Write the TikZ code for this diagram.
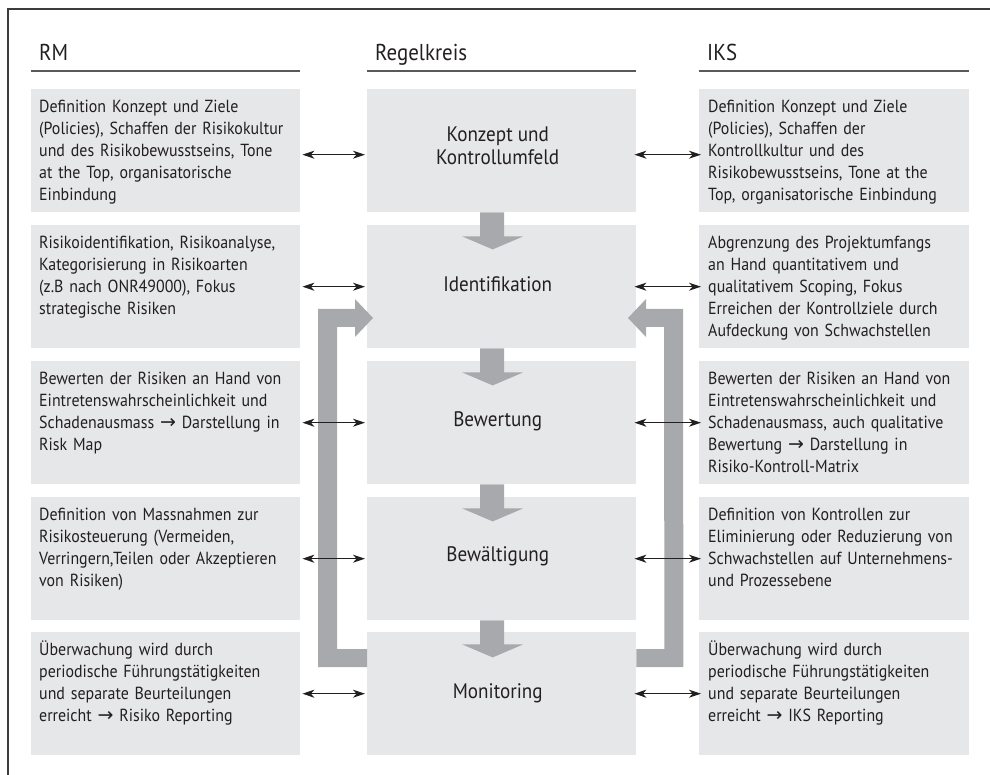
\documentclass[tikz,border=0pt]{standalone}
\usepackage{fontspec}
\setmainfont{PT Sans}[FakeStretch=0.91]
\newfontfamily\arrowfont{DejaVu Sans}
\usetikzlibrary{calc,arrows.meta}

\definecolor{boxgray}{HTML}{E6E7E8}
\definecolor{flowgray}{HTML}{A7A9AC}
\definecolor{ink}{HTML}{231F20}
\definecolor{rulegray}{HTML}{58595B}
\definecolor{framegray}{HTML}{3C3C3C}

\newcommand\rarr{{\arrowfont\fontsize{19}{22}\selectfont\char"2192}}

\tikzset{
  panel/.style={fill=boxgray, draw=none, inner sep=0pt, anchor=north west,
    minimum width=269pt, minimum height=123pt},
  sidetext/.style={inner sep=0pt, anchor=base west, text=ink, align=left,
    text width=320pt, font=\fontsize{17.5}{22}\selectfont},
  midtext/.style={inner sep=0pt, text=ink, align=center,
    font=\fontsize{21}{23}\selectfont},
  headtext/.style={inner sep=0pt, anchor=base west, text=ink,
    font=\fontsize{23}{26}\selectfont},
  headrule/.style={draw=rulegray, line width=1.5pt},
  link/.style={draw=ink, line width=1.1pt,
    {Stealth[length=12pt,width=8pt,inset=3.5pt]}-{Stealth[length=12pt,width=8pt,inset=3.5pt]}},
  flow/.style={fill=flowgray, draw=none},
}

\begin{document}
\begin{tikzpicture}[x=1pt,y=-1pt]
\useasboundingbox (0,0) rectangle (990,775);

% open frame: top and left edges
\coordinate (fc) at (8,9);
\coordinate (fr) at (990,9);
\coordinate (fb) at (8,775);
\draw[framegray, line width=1.4pt] (fr) -- (fc) -- (fb);

% column headers
\coordinate (hl) at (31,71);
\coordinate (hm) at (367,71);
\coordinate (hr) at (699,71);
\node[headtext] (hRM) at ($(hl)+(8,-10)$) {RM};
\node[headtext] (hRK) at ($(hm)+(8,-10)$) {Regelkreis};
\node[headtext] (hIKS) at ($(hr)+(8,-10)$) {IKS};
\draw[headrule] (hl) -- ++(269,0);
\draw[headrule] (hm) -- ++(269,0);
\draw[headrule] (hr) -- ++(270,0);

% panels, row by row
\foreach \r/\y in {1/89, 2/225, 3/361, 4/497, 5/632} {
  \node[panel] (l\r) at (31,\y) {};
  \node[panel] (m\r) at (367,\y) {};
  \node[panel, minimum width=270pt] (r\r) at (699,\y) {};
}

% feedback loops (drawn below the links)
\fill[flow] ($(m5.north west)+(0,17)$) -- ++(-30,0) -- (337,327) -- (355,327)
  -- (355,337) -- (373,318) -- (355,299) -- (355,309) -- (318,309)
  -- ($(m5.north west)+(-49,35)$) -- ($(m5.north west)+(0,35)$) -- cycle;
\fill[flow] ($(m5.north east)+(0,17)$) -- ++(28,0) -- (664,327) -- (646,327)
  -- (646,337) -- (628,318) -- (646,299) -- (646,309) -- (683,309)
  -- ($(m5.north east)+(47,35)$) -- ($(m5.north east)+(0,35)$) -- cycle;

% downward block arrows between the control-loop stages
\foreach \a/\b in {m1/m2, m2/m3, m3/m4, m4/m5} {
  \fill[flow] ($(\a.south)+(-21.5,0)$) -- ++(24,0) -- ++(0,24) -- ++(19,0)
    -- ++(-30.5,13) -- ++(-30.5,-13) -- ++(18,0) -- cycle;
}

% stage labels
\node[midtext] (t1) at ($(m1.center)+(-4,-5)$) {Konzept und\\Kontrollumfeld};
\node[midtext] (t2) at ($(m2.center)+(-4,-3)$) {Identifikation};
\node[midtext] (t3) at ($(m3.center)+(-4,-1)$) {Bewertung};
\node[midtext] (t4) at ($(m4.center)+(-4,-2)$) {Bewältigung};
\node[midtext] (t5) at ($(m5.center)+(-4,0)$) {Monitoring};

% RM texts
\node[sidetext] (lt1) at ($(l1.north west)+(8,23.5)$) {Definition Konzept und Ziele\\(Policies), Schaffen der Risikokultur\\und des Risikobewusstseins, Tone\\at the Top, organisatorische\\Einbindung};
\node[sidetext] (lt2) at ($(l2.north west)+(8,23.5)$) {Risikoidentifikation, Risikoanalyse,\\Kategorisierung in Risikoarten\\(z.B nach ONR49000), Fokus\\strategische Risiken};
\node[sidetext] (lt3) at ($(l3.north west)+(8,23.5)$) {Bewerten der Risiken an Hand von\\Eintretenswahrscheinlichkeit und\\Schadenausmass \rarr{} Darstellung in\\Risk Map};
\node[sidetext] (lt4) at ($(l4.north west)+(8,23.5)$) {Definition von Massnahmen zur\\Risikosteuerung (Vermeiden,\\Verringern,Teilen oder Akzeptieren\\von Risiken)};
\node[sidetext] (lt5) at ($(l5.north west)+(8,23.5)$) {Überwachung wird durch\\periodische Führungstätigkeiten\\und separate Beurteilungen\\erreicht \rarr{} Risiko Reporting};

% IKS texts
\node[sidetext] (rt1) at ($(r1.north west)+(9,23.5)$) {Definition Konzept und Ziele\\(Policies), Schaffen der\\Kontrollkultur und des\\Risikobewusstseins, Tone at the\\Top, organisatorische Einbindung};
\node[sidetext] (rt2) at ($(r2.north west)+(9,23.5)$) {Abgrenzung des Projektumfangs\\an Hand quantitativem und\\qualitativem Scoping, Fokus\\Erreichen der Kontrollziele durch\\Aufdeckung von Schwachstellen};
\node[sidetext] (rt3) at ($(r3.north west)+(9,23.5)$) {Bewerten der Risiken an Hand von\\Eintretenswahrscheinlichkeit und\\Schadenausmass, auch qualitative\\Bewertung \rarr{} Darstellung in\\Risiko-Kontroll-Matrix};
\node[sidetext] (rt4) at ($(r4.north west)+(9,23.5)$) {Definition von Kontrollen zur\\Eliminierung oder Reduzierung von\\Schwachstellen auf Unternehmens-\\und Prozessebene};
\node[sidetext] (rt5) at ($(r5.north west)+(9,23.5)$) {Überwachung wird durch\\periodische Führungstätigkeiten\\und separate Beurteilungen\\erreicht \rarr{} IKS Reporting};

% two-way links between the columns
\draw[link] ([shift={(2,4)}]l1.east) -- ([shift={(-2,4)}]m1.west);
\draw[link] ([shift={(-2,4)}]m1.east) -- ([shift={(2,4)}]r1.west);
\foreach \r in {2,...,5} {
  \draw[link] ([xshift=2pt]l\r.east) -- ([xshift=-2pt]m\r.west);
  \draw[link] ([xshift=-2pt]m\r.east) -- ([xshift=2pt]r\r.west);
}
\end{tikzpicture}
\end{document}
